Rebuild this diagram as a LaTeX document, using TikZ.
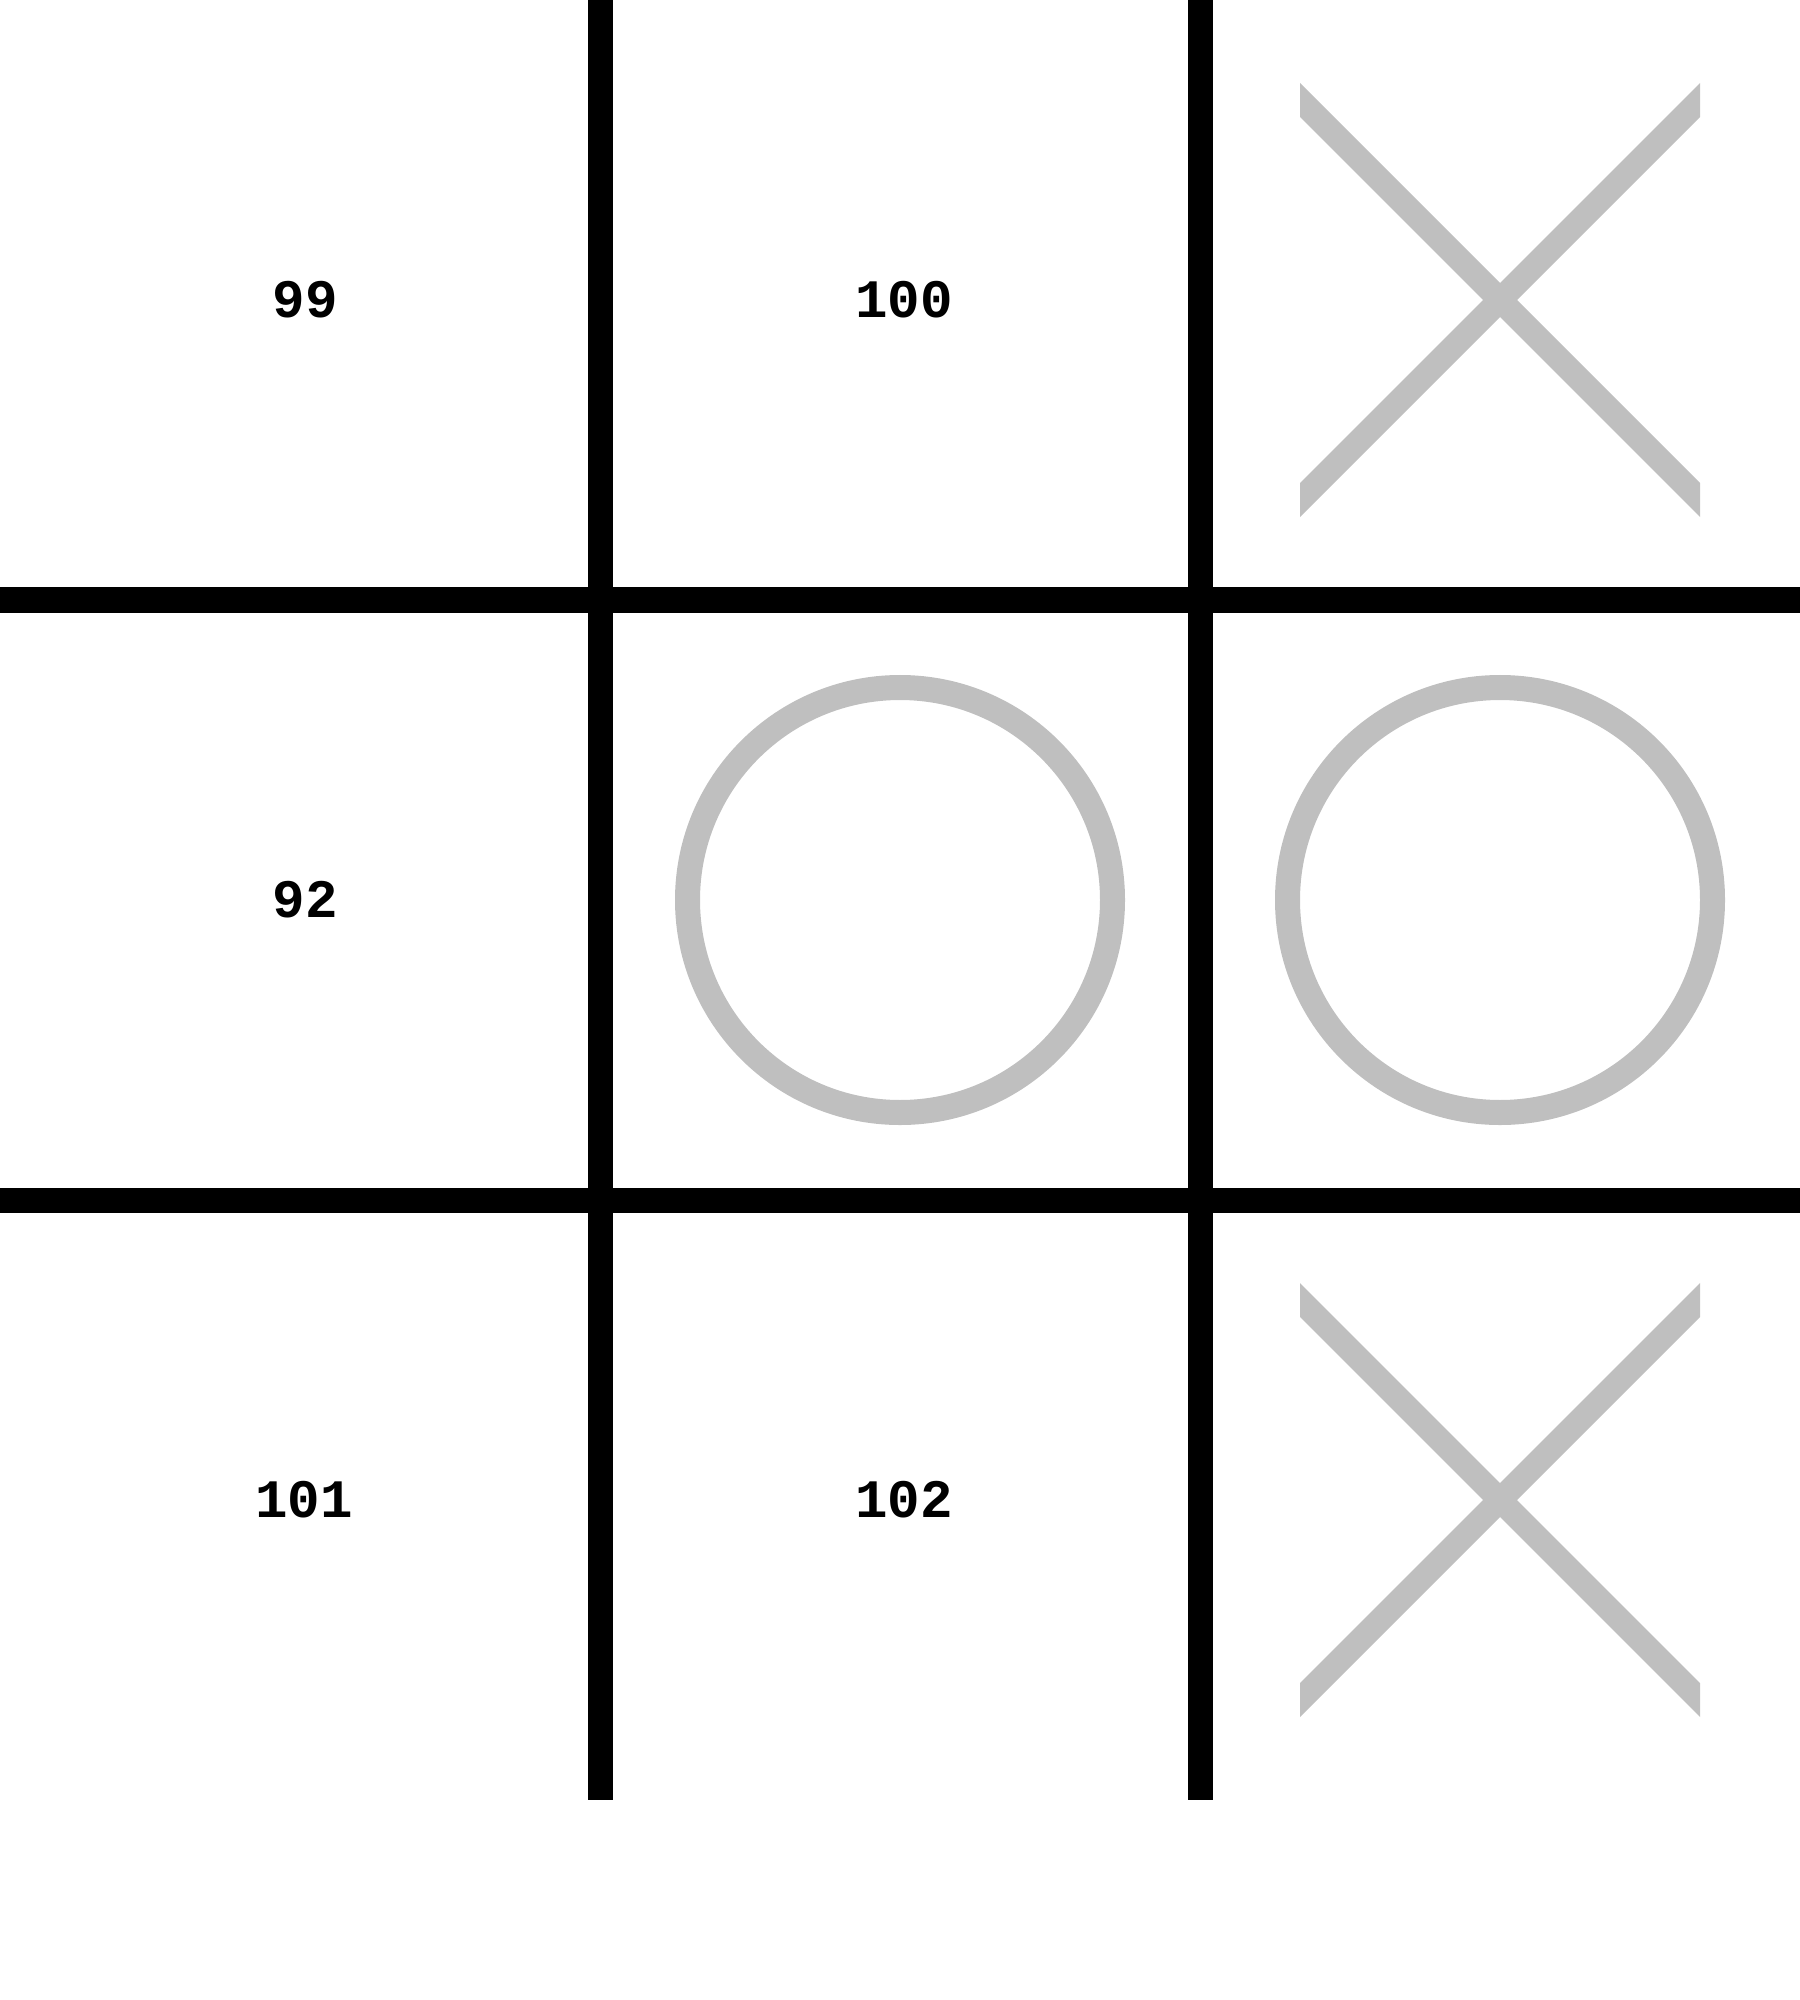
\documentclass[tikz,border=0pt]{standalone}
\usepackage{fontspec}
\setmonofont{Liberation Mono}
\tikzset{
    gridline/.style={black, line width=0.25cm},
    markx/.style={black!25, line width=0.24cm},
    marko/.style={black!25, line width=0.25cm},
    celllabel/.style={font=\ttfamily\bfseries\fontsize{15.4}{18}\selectfont, inner sep=0pt}
}
\begin{document}
\begin{tikzpicture}[x=0.01cm, y=-0.01cm]
        \useasboundingbox (0,0) rectangle (1800,2000);
        
        % Grid lines
        \foreach \p in {600, 1200} {
            \draw[gridline] (\p, 0) -- (\p, 1800);
            \draw[gridline] (0, \p) -- (1800, \p);
        }
        
        % Cell numbers
        \node[celllabel] (c99) at (305, 300) {99};
        \node[celllabel] (c100) at (904, 300) {100};
        \node[celllabel] (c92) at (305, 900) {92};
        \node[celllabel] (c101) at (304, 1500) {101};
        \node[celllabel] (c102) at (904, 1500) {102};
        
        % Crosses
        \foreach \cy in {300, 1500} {
            \begin{scope}
                \clip (1300, \cy-300) rectangle (1700, \cy+300);
                \draw[markx] (1250, \cy-250) -- (1750, \cy+250);
                \draw[markx] (1250, \cy+250) -- (1750, \cy-250);
            \end{scope}
        }
        
        % Noughts
        \foreach \cx in {900, 1500} {
            \draw[marko] (\cx, 900) circle (212.5);
        }
    \end{tikzpicture}
\end{document}
